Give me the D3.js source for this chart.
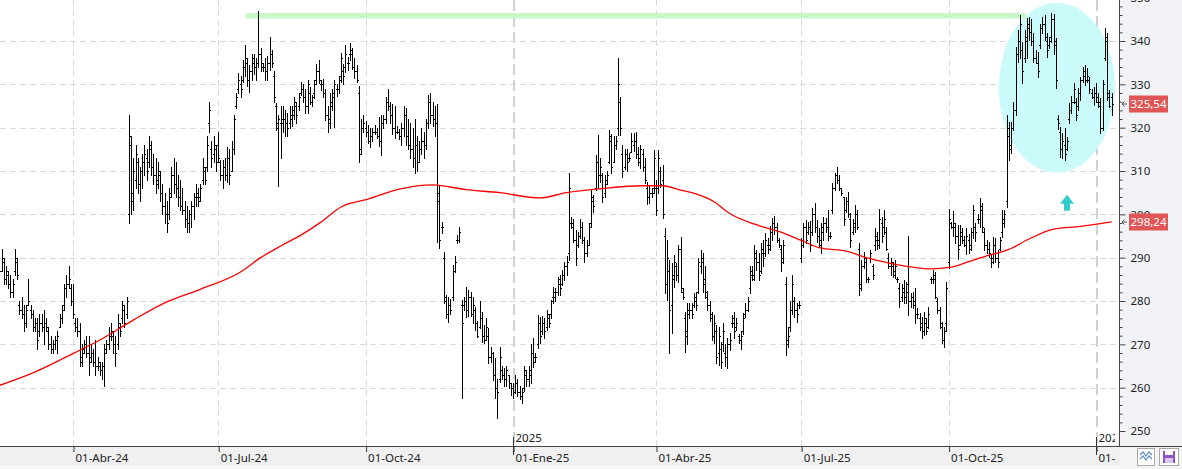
<!DOCTYPE html>
<html>
<head>
<meta charset="utf-8">
<script src="https://cdn.jsdelivr.net/npm/d3@7"></script>
<style>
  body { margin: 0; background: #fff; }
  svg { display: block; font-family: "Noto Sans", sans-serif; }
</style>
</head>
<body>
<div id="chart"></div>
<script>
// daily bars, one per weekday starting 14-Feb-2024
var highs = [
  291,292,290,288,287,286,285,292,290,280,281,279,279,285,279,278,276,276,277,277,278,276,274,272,271,272,273,277,279,284,286,288,284,
  284,276,276,275,270,271,272,272,270,269,271,267,266,266,270,271,274,275,273,272,277,275,280,279,281,323,318,313,316,313,311,314,316,315,318,317,314,313,312,310,307,305,303,306,311,313,312,309,308,306,303,302,301,303,305,307,306,307,313,311,318,326,317,318,316,
  319,312.5,312.5,313,315.5,315,317,323,328,332.6,332,335.6,339,336,334.5,337,337,336,347,338.5,335,336,336.5,341,338,333,325.7,323,325,325,324,323.5,325,325,327,326,328,330.5,330,329,331,329.3,327.5,331,334.6,335.6,331,331.3,329,325,328,329,331,330,332,337.2,334.6,339,336.3,339.5,338.5,336,334.5,329.6,322,323,
  321.5,320.6,320,320,320.6,320,322.5,323,323,327,329,326,325.5,325,320.5,319.7,321,325,324.5,322,321,320,322,318,317,320,319,322,327.5,328,326,325,325.5,306.8,298.2,291.3,281.4,281,280.5,288.3,290.5,295.2,297,280.2,281,283.2,282.5,282,281,278.6,275.5,280,277.5,274.5,276,273.7,269.5,268.3,266.8,262,269.5,265,264.5,265,263,261,
  261,263,262,260.5,260,265,264,265,270,271.5,268,276.8,276.4,276.5,276,277.9,277,280.2,283.2,283,285.6,286,287.2,289,290.5,309.5,299.5,299,296.4,296,299,298.2,294.8,294,298,305.6,304.5,313.7,318.3,313,309.5,309,310,319.5,318.5,318,318,336,327,316,315,315,314.2,318.7,318.8,319,315.5,316,315,313,307.5,306.8,306,314.8,
  307.9,314.8,311,311.4,296.8,294,289.5,288.8,290.6,288.8,293,294.8,283,277.5,279.5,279.5,279.5,281.8,282,290,291.8,291,288,282.2,280,277.5,276.8,274.5,274,270.6,275,270,271.4,272.6,276.8,277.5,276,272.5,273,277.2,279.5,281,288,288,293,291.8,291,293.4,294,295.6,294.5,297.2,299.2,299.7,298,294.5,293,294.1,285.6,274,280,286,281,279.5,280,
  294.5,298,298.7,298.2,298.5,301.4,302.6,298.7,296.8,298,299.5,299.2,300.9,296,307.2,309.5,311,309,306,304,304,305.2,300.2,299,302.2,301,293.4,289.5,291.4,290,285.6,291.8,288.5,296.8,296,301.2,299.4,301,297,291,290,289,289.5,285.5,284.1,284,284.8,284.5,295,281.8,282,283.1,278.3,277.2,276.3,277.5,276,278.7,285.6,287.2,286.8,280.6,278.7,275.2,274,284.5,
  301.2,298.3,300.7,297.9,297.5,297.5,296.8,294.9,296.8,295.5,296.8,302.2,298,300,303.8,302.6,296.8,294.1,293.7,290.6,294.8,294.5,291.8,294.8,301,301,323,321.4,321.4,326,338.6,342.5,346,339.8,342.5,345.3,345.6,345,341.8,337.9,337.5,344,345.6,346,341.8,341,346.5,346.3,340.7,323,320.2,318.7,320,317.9,325.6,327.2,330.2,326.8,329.1,331.8,334,334.5,333.7,331.8,329,329.5,
  330.2,327.9,326.8,331,343,341.8,328.7,328
];
var lows = [
  286,287,284,284,283,281,281,286,285,277,276,273,274,279,276,273,273,269,272,273,270,273,269,268,268,269,268,274,275,278,281,283,279,
  276,273,272,265,265,268,267,263,266,265,263,264,263,262,260.5,268,269,271,268,265,269,272,275,274,276,298,300,301,306,305,303,306,309,308,311,309,307,305,306,303,300,298,296,299,304,305,304,302,301,300,297,296,296,297,299,302,302,303,307,307,310,319,311,312,310,
  312,308,306,308,307.5,307,310,314,324.5,328,327,330.5,332,329.6,328.2,331,332.5,331,334,333,333,331,331,333.3,334,326,319.5,306.5,313,319,318,318,320,320.5,322,321,324,327.5,326,323.5,323.3,325.5,325,326.8,330,330.3,328.7,327,321.8,319,320,324,320.2,327.4,328,330.5,330,332.8,333.3,335.6,333.5,331.5,330.5,312,314,319,
  318,316.5,315.5,317,318.5,317.7,315.7,313.6,320,321,324,321,318.5,317.7,318.8,317.5,316,318,316,315,313,311,309.5,310,312,314,313,315,320,321,320.5,318,293.5,292.3,295.7,279.5,276,275.2,277,280.2,286.8,293.4,293.6,257.6,278,276.3,276.5,276.5,275,273.3,271.8,273.8,270.5,270.2,271,265.7,266,261.8,257.6,253,261.2,262,260.3,260.5,259.9,258.3,
  257.7,258.8,258,257.5,256.5,259.2,260.5,260.5,261.1,264.8,266,269.1,270.2,272.5,271.5,273.3,274,276,279.5,280,281.4,281.5,283.7,284.8,286,289.5,296.8,293.5,288.3,292.5,294.5,293.4,289,290.5,293,297,300.5,305.6,306,307.5,302.8,304,307,311.8,309.5,312,315,318.3,318.3,308.7,310.5,310,312.3,314.5,314.6,313,311.5,310.8,310,307.2,302.3,302.5,304,304.9,
  299.8,304.9,306.4,299.2,281.8,280.2,268,272.6,283.3,284.8,284.5,282.1,280.5,268.2,270,276,276,278.7,278,281.8,286.4,282,280.7,277.9,275.5,271,270.2,265.7,265.2,264.5,268.5,265,264.5,268.7,274.1,271.4,273.3,270.2,269,272.5,276.4,277.7,281.8,284.8,284.8,287.2,284.8,286.5,288,290.3,291,291.8,294.1,295.5,293.5,292.5,287,288.8,267.5,269.5,273,277,276.4,275.2,278.5,
  289.1,292.5,293.3,295.5,291.5,295.2,296,293.7,292.5,291,294,296,294.1,294.5,300.4,305.6,307.2,305.6,304.5,297.5,300.6,299.4,292.5,295.5,296,296.5,281.4,282.6,287.5,284.5,284.5,289.1,285,291.8,292,292.2,293.7,295.5,291.8,287.5,286,285.5,285.2,284.5,278.7,280,279.5,279.5,276.8,278.7,278.5,275,276,273.3,271.5,272.1,272.5,273.7,284.1,284.1,280.6,277.2,273.7,270.2,269.4,273,
  287.5,296.8,295,293.3,289.8,293,293.3,292.6,290.8,291,291.8,294.5,293.8,298,297,296,291.8,291,290.2,287.9,288.7,289,287.9,291.8,294.8,297,301.7,312.5,314.1,319.5,322.9,335.2,336,330.3,335.2,336,340.2,339,335.2,334.9,331.7,338.3,341.8,340.2,336.4,338.3,339.8,337,329.2,319.8,313.2,312.9,312.5,314.8,321,323.3,325.6,321.8,324.1,326.4,330.5,329.9,330.5,327.9,326.8,325.2,
  326,324.8,318.7,319.5,335.6,326.4,324.8,322.9
];
var opens = [
  289,287,289,285,286,284,282,287,289,279,278,277,275,279,278,277,274,275,273,275,274,275,273,270,269,270,271,274,276,279,283,284,283,
  280,275,274,273,267,269,270,268,267,268,266,265,265,264,265,269,270,272,272,270,270,274,276,278,277,300,316,305,308,312,307,310,312,313,312,315,311,309,308,309,305,302,300,300,305,309,307,306,304,302,301,299,298,300,302,304,304,304,308,310,311,321,315,314,315,
  316,312,309,311,309,313,310,315,325,329,330,331,334,335,331,333,335,334,335,337,334,334,333,335,337,332,325,320,321,321,322,321,321,322,323,325,325,328,329,327,325,328,326,328,331,333,330,330,328,323,321,325,328,329,329,332,333,334,335,337,337,334,333,328,315,320,
  320,319,317,318,319,319,318,317,321,322,326,325,323,320,319,319,318,320,323,318,316,315,313,316,312,315,317,316,321,326,323,322,321,303,297,290,280,277,279,281,287,294,294,279,279,280,278,281,277,278,275,274,276,272,271,272,267,268,263,260,262,264,263,262,263,261,
  260,259,261,259,258,260,263,262,263,268,267,270,275,273,275,274,276,277,281,281,282,284,284,286,288,291,298,297,294,293,295,297,294,291,293,298,303,306,312,309,309,305,308,312,317,312,316,320,326,314,311,314,313,314,316,317,314,312,314,311,306,304,305,306,
  306,306,310,308,295,284,287,279,285,288,286,292,282,276,273,277,278,279,280,282,288,289,285,281,279,276,272,273,268,269,270,268,267,270,275,275,274,272,271,273,277,278,283,286,286,290,289,287,291,291,293,293,296,298,297,294,292,290,284,271,274,278,280,278,279,
  290,293,297,296,297,296,300,297,295,293,296,298,297,295,301,306,309,308,306,304,301,303,299,296,297,300,292,284,288,289,285,290,288,293,294,294,298,297,296,290,288,288,287,285,283,281,282,281,284,280,281,280,277,276,275,273,275,274,285,285,285,280,278,274,271,275,
  289,298,297,297,295,293,295,294,293,294,293,296,297,299,299,301,296,293,292,290,290,293,290,292,296,298,303,318,316,320,324,337,340,338,336,340,343,342,340,336,335,339,343,344,340,339,341,345,339,322,319,315,316,315,322,324,326,326,325,328,331,332,331,331,328,327,
  328,326,325,320,336,340,327,327
];
var closes = [
  287,290,285,287,284,282,284,290,286,278,277,275,278,280,277,274,275,271,275,274,275,274,270,269,270,271,272,276,278,283,284,285,280,
  277,274,273,266,268,270,268,266,268,266,265,266,264,265,268,270,272,273,270,268,275,273,279,275,280,318,303,310,314,307,310,312,314,310,316,311,309,307,310,305,302,300,298,304,309,307,306,304,302,301,299,298,300,302,304,305,303,306,311,308,316,324,313,316,312,
  313,309,311,309,313,309,315,322,327,331,329,334,336,331,333,336,334,335,337,335,334,333,335,337,335,327,321,322,322,322,321,320,323,324,326,323,327,329,327,325,330,326,327,330,333,331,330,328,323,322,326,327,330,329,331,336,332,337,335,338,334,333,331,314,320,321,
  319,317,318,319,319,318,317,321,322,326,325,323,320,319,319,318,320,323,318,316,315,313,316,312,315,317,316,321,326,323,322,321,305,294,297,281,277,279,278,287,289,294,296,275,280,278,281,277,279,275,272,276,272,271,274,267,268,263,260,259,267,263,262,264,261,260,
  259,261,259,258,259,264,262,264,268,266,267,275,272,275,273,277,275,280,282,282,285,283,286,288,289,306,298,294,290,295,297,294,291,293,297,304,302,312,309,311,304,307,309,318,311,316,317,330,320,310,314,312,313,317,317,314,313,315,311,308,304,305,305,313,
  301,313,307,300,284,290,278,286,289,286,292,283,281,272,278,278,277,281,279,289,290,284,282,279,277,272,275,267,272,266,273,267,270,271,276,273,275,271,272,276,278,280,287,285,291,289,286,292,290,294,292,296,298,297,294,293,289,293,270,272,278,284,278,277,279,
  294,297,294,297,293,300,297,295,294,297,298,297,295,295,306,309,308,306,305,299,303,300,294,298,300,297,283,288,290,285,285,291,286,295,293,299,295,299,292,288,289,286,288,285,280,283,281,282,280,281,279,277,277,274,273,276,273,277,285,286,281,278,275,271,273,283,
  299,297,298,295,292,296,294,293,295,292,296,301,296,299,302,297,293,292,291,289,293,290,289,294,299,300,320,315,320,324,337,340,344,333,341,344,342,340,336,335,333,343,344,341,338,340,345,340,331,321,315,317,314,317,324,326,329,323,328,331,333,331,332,329,327,328,
  327,326,320,330,341,328,325,325.54
];

// 200-day moving average, read at these bar numbers
var maBars = [0,15,30,45,60,75,90,108,117,126,135,144,153,165,179,194,209,224,242,254,269,288,297,305,312,320,327,335,342,350,359,367,380,387,399,409,417,426,433,442,452,461,472,484,498];
var maValues = [260.5,263.4,267.1,271,275.6,279.8,282.7,286.7,290,292.7,295.2,298.2,301.7,303.5,305.8,306.8,305.7,305,303.8,305,305.9,306.6,306.6,305.6,304.7,302.9,300.2,298.3,297.1,295.9,294,292.3,291.4,290.2,288.7,287.8,287.4,287.8,288.9,290.4,291.9,294.3,296.6,297.2,298.24];

var tickDates = ["2024-04-01","2024-07-01","2024-10-01","2025-01-01","2025-04-01","2025-07-01","2025-10-01","2026-01-01"];
var tickLabels = ["01-Abr-24","01-Jul-24","01-Oct-24","01-Ene-25","01-Abr-25","01-Jul-25","01-Oct-25","01-Ene-26"];
var yearDates = ["2025-01-01","2026-01-01"];
var yearLabels = ["2025","2026"];
var priceTicks = [250,260,270,280,290,300,310,320,330,340,350];

// annotations
var resistance = 345.8, resistFrom = 110.5, resistTo = 459.5;
var zoneBar = 473.5, zonePrice = 329.2, zoneHalfBars = 26, zoneHalfPrice = 19.6;
var arrowBar = 478, arrowLow = 300.8, arrowHigh = 304.5;

var width = 1182, height = 469,
    plotW = 1119, plotH = 446;

var firstDay = new Date(2024, 1, 14);
var dates = [];
for (var d = new Date(firstDay); dates.length < closes.length + 10; d.setDate(d.getDate() + 1)) {
    if (d.getDay() % 6 !== 0) dates.push(new Date(d));
}
var parse = d3.timeParse("%Y-%m-%d");
function barOf(s) {
    var t = parse(s);
    return dates.findIndex(function (dd) { return dd >= t; });
}

var x = d3.scaleLinear().domain([0.32, 501.3]).range([0, plotW]);
var y = d3.scaleLinear().domain([250, 340]).range([431, 41]);

var svg = d3.select("#chart").append("svg")
    .attr("width", width)
    .attr("height", height);

svg.append("rect").attr("width", width).attr("height", height).attr("fill", "#fff");

var defs = svg.append("defs");
defs.append("clipPath").attr("id", "plotclip")
    .append("rect").attr("width", plotW).attr("height", plotH);
defs.append("clipPath").attr("id", "labelclip")
    .append("rect").attr("x", -10).attr("y", -20).attr("width", plotW - 4 + 10).attr("height", 60);

var plot = svg.append("g").attr("clip-path", "url(#plotclip)");

// grid
plot.append("g").selectAll("line")
    .data(priceTicks.filter(function (v) { return v > 250 && v < 350; }))
    .join("line")
    .attr("x1", 0).attr("x2", plotW)
    .attr("y1", function (v) { return Math.round(y(v)) + 0.5; })
    .attr("y2", function (v) { return Math.round(y(v)) + 0.5; })
    .attr("stroke", "#d9d9d9")
    .attr("stroke-dasharray", "6,4");

var tickBars = tickDates.map(barOf);
var yearBars = yearDates.map(barOf);

plot.append("g").selectAll("line")
    .data(tickBars.filter(function (b) { return yearBars.indexOf(b) < 0; }))
    .join("line")
    .attr("x1", function (b) { return Math.round(x(b)) + 0.5; })
    .attr("x2", function (b) { return Math.round(x(b)) + 0.5; })
    .attr("y1", 0).attr("y2", plotH)
    .attr("stroke", "#d9d9d9")
    .attr("stroke-dasharray", "6,4");

plot.append("g").selectAll("line")
    .data(yearBars)
    .join("line")
    .attr("x1", function (b) { return Math.round(x(b)) + 1; })
    .attr("x2", function (b) { return Math.round(x(b)) + 1; })
    .attr("y1", 0).attr("y2", plotH)
    .attr("stroke", "#d2d2d2")
    .attr("stroke-width", 2)
    .attr("stroke-dasharray", "11,5");

// highlighted zone
plot.append("ellipse")
    .attr("cx", x(zoneBar))
    .attr("cy", y(zonePrice))
    .attr("rx", x(zoneBar + zoneHalfBars) - x(zoneBar))
    .attr("ry", y(zonePrice - zoneHalfPrice) - y(zonePrice))
    .attr("fill", "#cbfafa");

// resistance band
plot.append("line")
    .attr("x1", x(resistFrom)).attr("x2", x(resistTo))
    .attr("y1", y(resistance)).attr("y2", y(resistance))
    .attr("stroke", "#c8f7c8")
    .attr("stroke-width", 5.5);

// OHLC bars
var bars = plot.append("g")
    .attr("stroke", "#000")
    .attr("stroke-width", 1)
    .attr("fill", "none")
    .attr("shape-rendering", "crispEdges");

bars.selectAll("path")
    .data(d3.range(closes.length))
    .join("path")
    .attr("d", function (i) {
        var cx = Math.round(x(i)) + 0.5;
        var top = Math.round(y(highs[i])), bot = Math.round(y(lows[i])) + 1;
        var o = Math.max(lows[i], Math.min(highs[i], opens[i]));
        var c = Math.max(lows[i], Math.min(highs[i], closes[i]));
        var yo = Math.round(y(o)) + 0.5, yc = Math.round(y(c)) + 0.5;
        return "M" + cx + "," + top + "V" + bot +
               "M" + (cx - 1.5) + "," + yo + "H" + (cx - 0.5) +
               "M" + (cx + 0.5) + "," + yc + "H" + (cx + 1.5);
    });

// moving average
var maLine = d3.line()
    .x(function (d, i) { return x(maBars[i]); })
    .y(function (d) { return y(d); })
    .curve(d3.curveMonotoneX);

plot.append("path")
    .datum(maValues)
    .attr("d", maLine)
    .attr("fill", "none")
    .attr("stroke", "#ff0000")
    .attr("stroke-width", 1.3);

// up arrow
var ax = x(arrowBar), at = y(arrowHigh), ab = y(arrowLow), ah = at + (ab - at) * 0.55;
plot.append("path")
    .attr("d", "M" + ax + "," + at + "L" + (ax + 7) + "," + ah + "L" + (ax + 3) + "," + ah +
               "L" + (ax + 3) + "," + ab + "L" + (ax - 3) + "," + ab + "L" + (ax - 3) + "," + ah +
               "L" + (ax - 7) + "," + ah + "Z")
    .attr("fill", "#33cccc");

// bottom band and date axis
svg.append("rect")
    .attr("x", 0).attr("y", plotH)
    .attr("width", width).attr("height", height - plotH)
    .attr("fill", "#f0f0f0");
svg.append("rect")
    .attr("x", 0).attr("y", 466)
    .attr("width", width).attr("height", 3)
    .attr("fill", "#f7f7f7");

var xAxis = svg.append("g")
    .attr("transform", "translate(0," + plotH + ")")
    .call(d3.axisBottom(x).tickValues(tickBars)
        .tickFormat(function (d, i) { return tickLabels[i]; })
        .tickSize(6).tickSizeOuter(0));
xAxis.select(".domain").remove();
xAxis.attr("clip-path", "url(#labelclip)");
xAxis.selectAll(".tick line")
    .attr("stroke", "#333")
    .attr("transform", function () { return "translate(0.5,0)"; });
xAxis.selectAll(".tick text")
    .attr("text-anchor", "start")
    .attr("x", 2)
    .attr("y", 16)
    .attr("dy", 0)
    .attr("fill", "#222")
    .style("font-size", "11.5px")
    .style("font-family", "Noto Sans, sans-serif");

// year markers
var years = svg.append("g")
    .attr("clip-path", "url(#yearclip)")
    .selectAll("g")
    .data(yearBars)
    .join("g")
    .attr("transform", function (b) { return "translate(" + (Math.round(x(b)) + 0.5) + ",0)"; });
defs.append("clipPath").attr("id", "yearclip")
    .append("rect").attr("x", 0).attr("y", 420).attr("width", plotW - 4).attr("height", 40);
years.append("line")
    .attr("y1", 437).attr("y2", 455)
    .attr("stroke", "#333");
years.append("text")
    .attr("x", 2).attr("y", 442)
    .attr("fill", "#222")
    .style("font-size", "11.5px")
    .text(function (b, i) { return yearLabels[i]; });

svg.append("line")
    .attr("x1", 0).attr("x2", width)
    .attr("y1", plotH + 0.5).attr("y2", plotH + 0.5)
    .attr("stroke", "#444");

// right price panel
svg.append("rect")
    .attr("x", plotW + 1).attr("y", 0)
    .attr("width", width - plotW - 1).attr("height", plotH)
    .attr("fill", "#f2f3f6");
svg.append("rect")
    .attr("x", plotW + 1).attr("y", plotH + 1)
    .attr("width", width - plotW - 1).attr("height", height - plotH - 1)
    .attr("fill", "#f4f4f4");

var yAxis = svg.append("g")
    .attr("transform", "translate(" + (plotW + 0.5) + ",0)")
    .call(d3.axisRight(y).tickValues(priceTicks).tickSize(6).tickPadding(5).tickFormat(d3.format("d")));
yAxis.select(".domain").attr("d", "M0,0V" + plotH).attr("stroke", "#444");
yAxis.selectAll(".tick line").attr("stroke", "#444");
yAxis.selectAll(".tick text")
    .attr("fill", "#222")
    .style("font-size", "11.5px")
    .style("font-family", "Noto Sans, sans-serif");

svg.append("g")
    .attr("transform", "translate(" + (plotW + 0.5) + ",0)")
    .call(d3.axisRight(y).tickValues(d3.range(252, 350, 2).filter(function (v) { return v % 10 !== 0; }))
        .tickSize(3).tickFormat(""))
    .call(function (g) { g.select(".domain").remove(); })
    .selectAll(".tick line").attr("stroke", "#444");

// last value labels
var lastValues = [closes[closes.length - 1], maValues[maValues.length - 1]];
var fmt = function (v) { return d3.format(".2f")(v).replace(".", ","); };
var tags = svg.append("g").selectAll("g")
    .data(lastValues)
    .join("g")
    .attr("transform", function (v) { return "translate(0," + Math.round(y(v)) + ")"; });
tags.append("path")
    .attr("d", "M1127,0H1122M1124.5,-2.5L1122,0L1124.5,2.5")
    .attr("stroke", "#555")
    .attr("fill", "none");
tags.append("rect")
    .attr("x", 1129).attr("y", -8.5)
    .attr("width", 39).attr("height", 17)
    .attr("fill", "#e25555");
tags.append("text")
    .attr("x", 1148.5).attr("y", 4)
    .attr("text-anchor", "middle")
    .attr("fill", "#fff")
    .style("font-size", "11.5px")
    .text(fmt);

// small toolbar icons
var icons = svg.append("g");
icons.append("rect")
    .attr("x", 1137.5).attr("y", 448.5).attr("width", 17).attr("height", 17)
    .attr("fill", "#fff").attr("stroke", "#a8a8a8");
icons.append("path")
    .attr("d", "M1140,455L1143,452L1146,456L1149,452L1152,455M1140,459L1143,456L1146,460L1149,456L1152,459")
    .attr("fill", "none").attr("stroke", "#5a8fd0").attr("stroke-width", 1.2);
icons.append("rect")
    .attr("x", 1159.5).attr("y", 448.5).attr("width", 19).attr("height", 17)
    .attr("fill", "#fff").attr("stroke", "#a8a8a8");
icons.append("rect")
    .attr("x", 1163).attr("y", 451).attr("width", 12).attr("height", 12)
    .attr("fill", "#8e52c4");
icons.append("rect")
    .attr("x", 1165).attr("y", 451).attr("width", 8).attr("height", 4)
    .attr("fill", "#fff");
icons.append("rect")
    .attr("x", 1165).attr("y", 458).attr("width", 8).attr("height", 5)
    .attr("fill", "#d9c6ee");
</script>
</body>
</html>
